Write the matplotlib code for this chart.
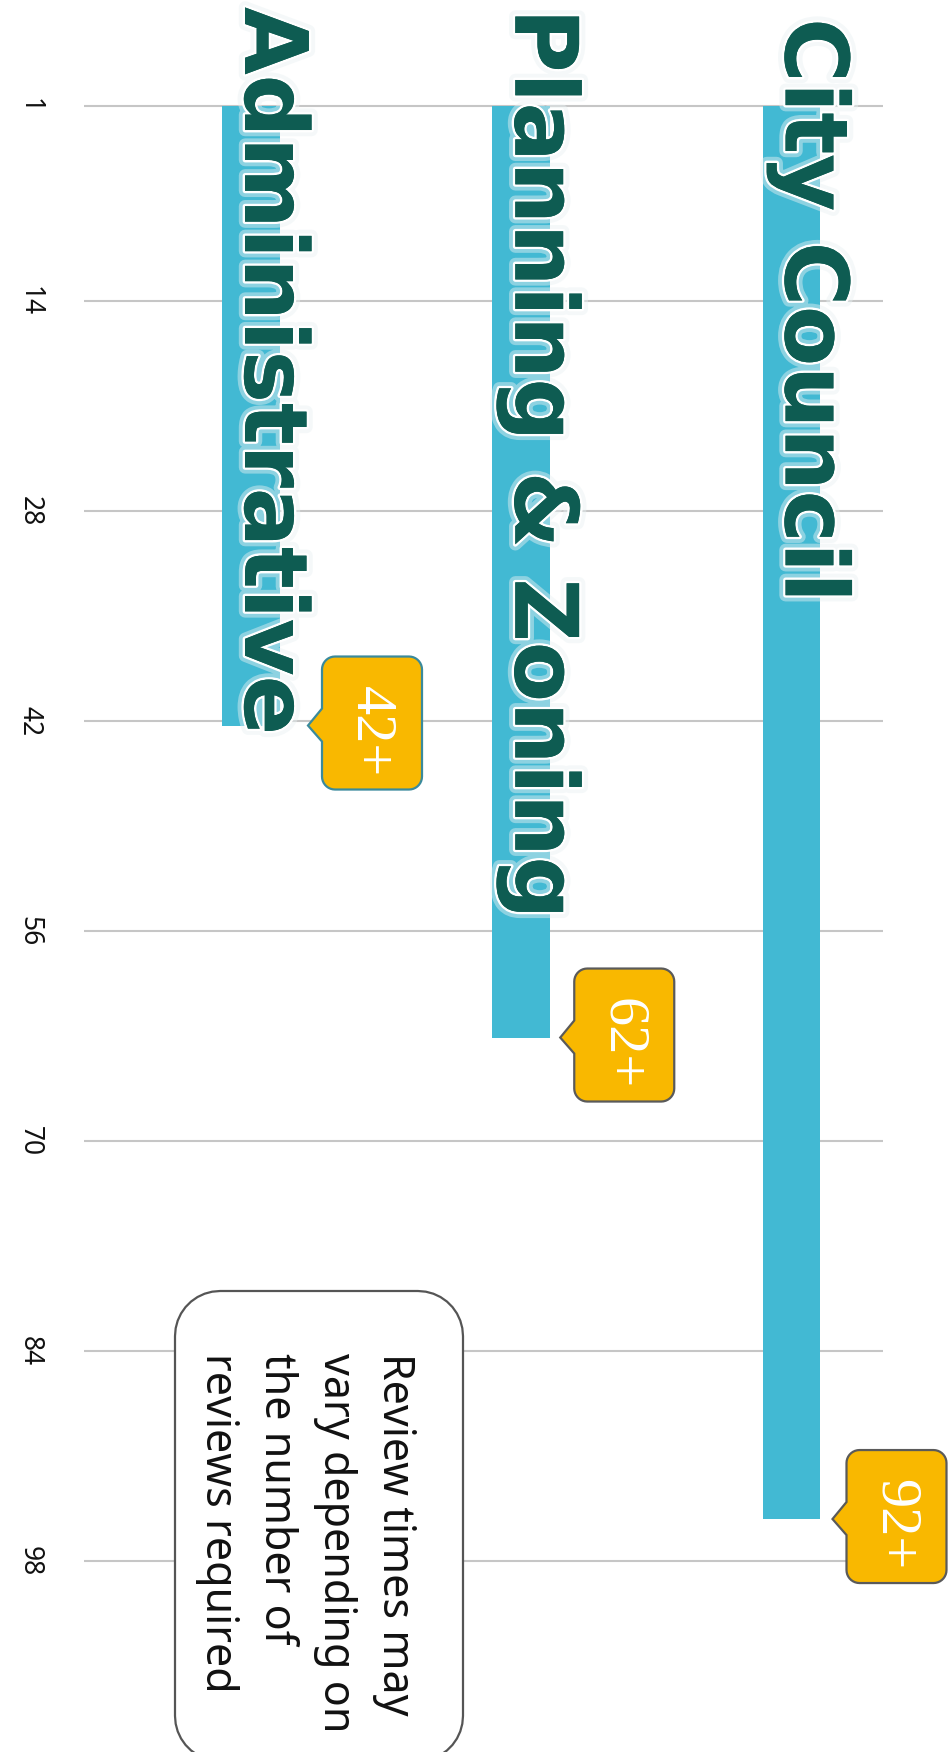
import numpy as np
import matplotlib
matplotlib.use("Agg")
import matplotlib.pyplot as plt
import matplotlib.patheffects as pe
from matplotlib.path import Path
from matplotlib.patches import PathPatch
from matplotlib.transforms import Affine2D, ScaledTranslation

# data
categories = ["Administrative", "Planning & Zoning", "City Council"]
bar_start = 1
bar_end = [42.3, 63.1, 95.2]
callout_labels = ["42+", "62+", "92+"]
tick_values = [1, 14, 28, 42, 56, 70, 84, 98]
note_text = "Review times may\nvary depending on\nthe number of\nreviews required"

bar_color = "#42b9d3"
title_color = "#0e5c52"
callout_fill = "#f9b800"
callout_edges = ["#3a8a9c", "#5a5a5a", "#5a5a5a"]

DPI = 100
fig = plt.figure(figsize=(9.51, 17.52), dpi=DPI)
fig.patch.set_facecolor("white")
ax = fig.add_axes([0, 0, 1, 1])
ax.set_axis_off()

# categories run left to right, values run top to bottom (chart is turned 90 degrees)
ax.set_xlim(-0.9288, 2.5902)
ax.set_ylim(110.73, -6.067)

xs = np.arange(len(categories))
bar_w = 0.2146

# gridlines + tick labels
ax.hlines(tick_values, -0.618, 2.339, colors="#c6c6c6", lw=1.5, zorder=1)
for v in tick_values:
    ax.text(-0.82, v, str(v), rotation=270, ha="center", va="center",
            fontsize=19, family="Noto Sans", color="#111111", zorder=2)

# bars
ax.bar(xs, [e - bar_start for e in bar_end], bottom=bar_start, width=bar_w,
       color=bar_color, zorder=2)

# category titles, written downwards
title_y = [-5.6, -5.5, -4.85]
title_dx = -0.022
glow = [pe.withStroke(linewidth=9, foreground="#e9f1f3", alpha=0.45),
        pe.withStroke(linewidth=3.5, foreground="white"),
        pe.Normal()]
for x, name, ty in zip(xs, categories, title_y):
    ax.text(x + title_dx, ty, name, rotation=270, rotation_mode="anchor",
            ha="left", va="baseline", fontsize=63, fontweight="bold",
            family="DejaVu Sans", color=title_color, path_effects=glow, zorder=4)


def rounded_path(w, h, r, pointer=None):
    """Rounded box (0,0)-(w,h), y pointing down; optional pointer on the left."""
    verts = []

    def arc(cx, cy, a0, a1):
        for t in np.radians(np.linspace(a0, a1, 10)):
            verts.append((cx + r * np.cos(t), cy + r * np.sin(t)))

    arc(r, r, 180, 270)
    arc(w - r, r, 270, 360)
    arc(w - r, h - r, 0, 90)
    arc(r, h - r, 90, 180)
    if pointer is not None:
        tx, ty, y0, y1 = pointer
        verts += [(0, y1), (tx, ty), (0, y0)]
    verts.append(verts[0])
    codes = [Path.MOVETO] + [Path.LINETO] * (len(verts) - 2) + [Path.CLOSEPOLY]
    return Path(verts, codes)


def pixel_transform(x, y, ox, oy, trans):
    # pixel offsets (y down) around a point given in `trans` coordinates
    return Affine2D().translate(ox, oy).scale(DPI / 100, -DPI / 100) + \
        ScaledTranslation(x, y, trans)


# callouts at the bar ends
tip_dx = [28, 10, 12]
box_w, box_h = 100, 133
box_off_x, box_off_y = 14, -69
for x, end, lab, ec, dx in zip(xs, bar_end, callout_labels, callout_edges, tip_dx):
    anchor_x = x + bar_w / 2 + dx / 270.25
    path = rounded_path(box_w, box_h, 13,
                        pointer=(-box_off_x, -box_off_y, -box_off_y - 17, -box_off_y + 16))
    patch = PathPatch(path, facecolor=callout_fill, edgecolor=ec, lw=1.6,
                      transform=pixel_transform(anchor_x, end, box_off_x, box_off_y,
                                                ax.transData), zorder=5)
    ax.add_patch(patch)
    ax.annotate(lab, (anchor_x, end), xytext=(box_off_x + box_w / 2 - 2, -6),
                textcoords="offset pixels", rotation=270, ha="center", va="center",
                fontsize=42, family="Liberation Serif", color="white", zorder=6)

# note box
note_path = rounded_path(288, 470, 45)
ax.add_patch(PathPatch(note_path, facecolor="white", edgecolor="#555555", lw=1.6,
                       transform=pixel_transform(175 / 951, 1 - 1291 / 1752, 0, 0,
                                                 ax.transAxes), zorder=5))
ax.text(0.437, 0.2277, note_text, transform=ax.transAxes, rotation=270,
        ha="right", va="top", multialignment="left", linespacing=1.45,
        fontsize=31, family="Noto Sans", color="#111111", zorder=6)

fig.savefig("out.png", dpi=DPI, facecolor="white")
plt.close(fig)
